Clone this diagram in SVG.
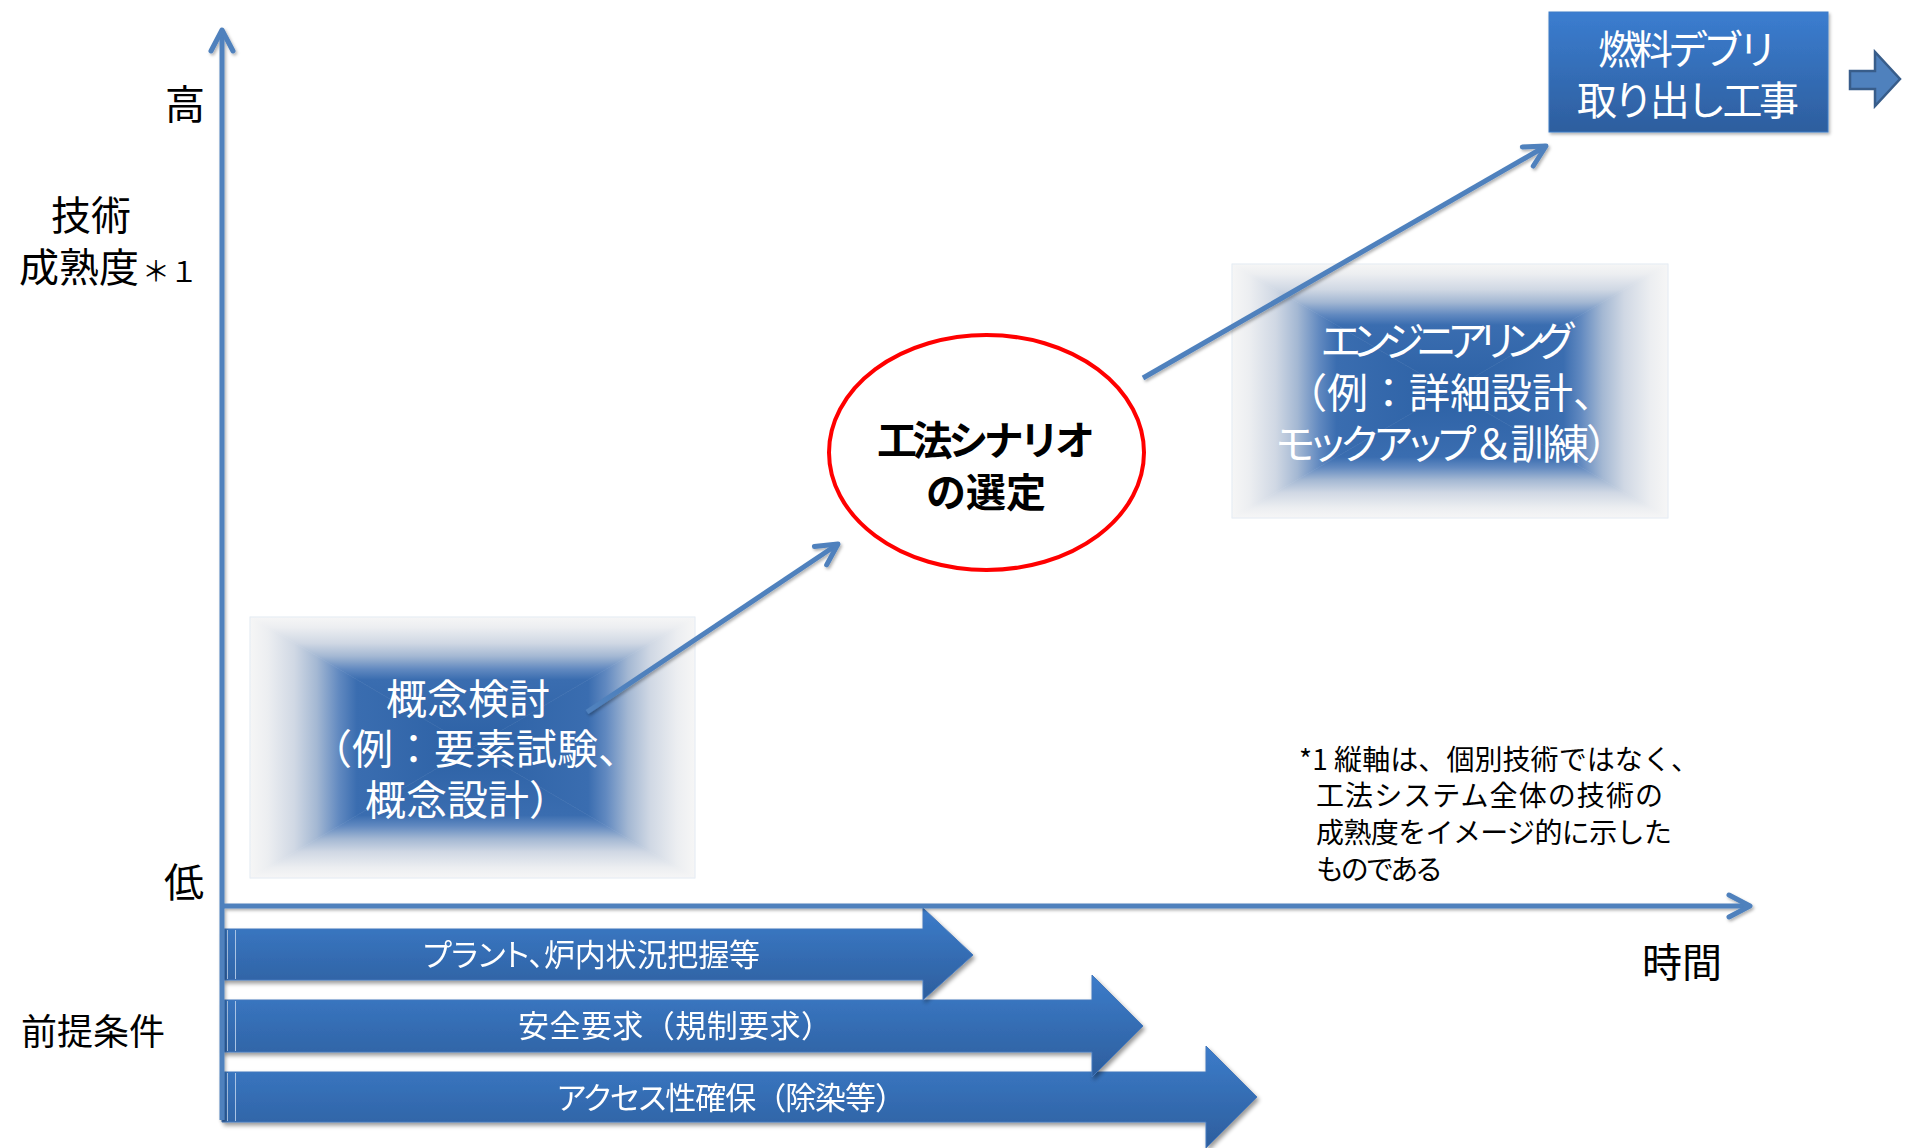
<svg xmlns="http://www.w3.org/2000/svg" xmlns:xlink="http://www.w3.org/1999/xlink" width="1905" height="1148" viewBox="0 0 1905 1148">
<style>
text{font-family:"Noto Sans CJK JP","Noto Sans",sans-serif}
.blk{fill:#000}
.lab{font-size:40px}
.wt{fill:#fff}
.box{font-size:41px}
.bar{font-size:31px}
.note{font-size:28px}
.p{font-feature-settings:"palt"}
.ax{fill:none;stroke:#4f81bd;stroke-width:5}
.con{fill:none;stroke:#4f81bd;stroke-width:5}
.barshape{fill:url(#barG);stroke:#4479bd;stroke-width:1}
</style>
<defs>
<filter id="sh" x="-10%" y="-10%" width="120%" height="120%">
<feDropShadow dx="1.5" dy="2" stdDeviation="1.5" flood-color="#000" flood-opacity="0.3"/>
</filter>
<filter id="shB" x="-5%" y="-20%" width="110%" height="150%">
<feDropShadow dx="2" dy="3" stdDeviation="2" flood-color="#000" flood-opacity="0.4"/>
</filter>
<marker id="ah" markerUnits="userSpaceOnUse" viewBox="-30 -20 36 40" markerWidth="36" markerHeight="40" refX="0" refY="0" orient="auto" overflow="visible">
<path d="M-21,-11 L0,0 L-21,11" fill="none" stroke="#4f81bd" stroke-width="5" stroke-linecap="round" stroke-linejoin="round"/>
</marker>
<linearGradient id="barG" x1="0" y1="0" x2="0" y2="1">
<stop offset="0" stop-color="#3c7cca"/>
<stop offset="1" stop-color="#2d5e9d"/>
</linearGradient>
<linearGradient id="topG" x1="0" y1="0" x2="0" y2="1">
<stop offset="0" stop-color="#3b7dd0"/>
<stop offset="1" stop-color="#2d5e9e"/>
</linearGradient>
<linearGradient id="rg">
<stop offset="0" stop-color="#f6f6f6"/>
<stop offset="0.08" stop-color="#eceef1"/>
<stop offset="0.2" stop-color="#d0d8e4"/>
<stop offset="0.3" stop-color="#a4b8d3"/>
<stop offset="0.4" stop-color="#6189c0"/>
<stop offset="0.48" stop-color="#3a6db0"/>
<stop offset="1" stop-color="#2c61a5"/>
</linearGradient>
<linearGradient id="c1t" xlink:href="#rg" gradientUnits="userSpaceOnUse" x1="0" y1="617" x2="0" y2="747.5"/>
<linearGradient id="c1b" xlink:href="#rg" gradientUnits="userSpaceOnUse" x1="0" y1="878" x2="0" y2="747.5"/>
<linearGradient id="c1l" xlink:href="#rg" gradientUnits="userSpaceOnUse" x1="250" y1="0" x2="472.5" y2="0"/>
<linearGradient id="c1r" xlink:href="#rg" gradientUnits="userSpaceOnUse" x1="695" y1="0" x2="472.5" y2="0"/>
<linearGradient id="c2t" xlink:href="#rg" gradientUnits="userSpaceOnUse" x1="0" y1="264" x2="0" y2="391"/>
<linearGradient id="c2b" xlink:href="#rg" gradientUnits="userSpaceOnUse" x1="0" y1="518" x2="0" y2="391"/>
<linearGradient id="c2l" xlink:href="#rg" gradientUnits="userSpaceOnUse" x1="1232" y1="0" x2="1450" y2="0"/>
<linearGradient id="c2r" xlink:href="#rg" gradientUnits="userSpaceOnUse" x1="1668" y1="0" x2="1450" y2="0"/>
</defs>
<rect width="1905" height="1148" fill="#fff"/>

<!-- axis labels -->
<g id="labels" class="blk">
<text class="lab" x="205" y="119" text-anchor="end">高</text>
<text class="lab" x="91" y="230" text-anchor="middle">技術</text>
<text x="19" y="282"><tspan class="lab">成熟度</tspan><tspan font-size="28" dx="3">＊１</tspan></text>
<text class="lab" x="204" y="897" text-anchor="end">低</text>
<text class="lab" x="1642" y="977">時間</text>
<text x="21" y="1045" font-size="36">前提条件</text>
</g>

<!-- premise bars -->
<g id="bar3" filter="url(#shB)">
<polygon class="barshape" points="222,1072 1206,1072 1206,1046 1257,1097 1206,1148 1206,1122 222,1122"/>
<line x1="227.5" y1="1073" x2="227.5" y2="1121" stroke="#a9c3e4" stroke-width="1"/>
<line x1="235.5" y1="1073" x2="235.5" y2="1121" stroke="#a9c3e4" stroke-width="1"/>
<text class="bar wt" x="557" y="1109" textLength="349"><tspan class="p">アクセス</tspan>性確保（除染等）</text>
</g>
<g id="bar2" filter="url(#shB)">
<polygon class="barshape" points="222,1000 1092,1000 1092,975 1143,1026 1092,1077 1092,1052 222,1052"/>
<line x1="227.5" y1="1001" x2="227.5" y2="1051" stroke="#a9c3e4" stroke-width="1"/>
<line x1="235.5" y1="1001" x2="235.5" y2="1051" stroke="#a9c3e4" stroke-width="1"/>
<text class="bar wt" x="518" y="1037" textLength="314">安全要求（規制要求）</text>
</g>
<g id="bar1" filter="url(#shB)">
<polygon class="barshape" points="222,929 923,929 923,908 973,955 923,1000 923,980 222,980"/>
<line x1="227.5" y1="930" x2="227.5" y2="979" stroke="#a9c3e4" stroke-width="1"/>
<line x1="235.5" y1="930" x2="235.5" y2="979" stroke="#a9c3e4" stroke-width="1"/>
<text class="bar wt" x="423" y="966" textLength="337"><tspan class="p">プラント、</tspan>炉内状況把握等</text>
</g>

<!-- axes -->
<g id="axes" filter="url(#sh)">
<path class="ax" d="M222,1120 L222,30" marker-end="url(#ah)"/>
<path class="ax" d="M220,906 L1750,906" marker-end="url(#ah)"/>
</g>

<!-- concept box -->
<g id="node-concept">
<g stroke-width="0.6">
<polygon points="250,617 695,617 472.5,747.5" fill="url(#c1t)" stroke="url(#c1t)"/>
<polygon points="250,878 695,878 472.5,747.5" fill="url(#c1b)" stroke="url(#c1b)"/>
<polygon points="250,617 250,878 472.5,747.5" fill="url(#c1l)" stroke="url(#c1l)"/>
<polygon points="695,617 695,878 472.5,747.5" fill="url(#c1r)" stroke="url(#c1r)"/>
</g>
<rect x="250" y="617" width="445" height="261" fill="none" stroke="#e4ebf4" stroke-width="1"/>
<text class="box wt" x="386" y="714">概念検討</text>
<text class="box wt" x="311" y="764">（例：要素試験、</text>
<text class="box wt" x="365" y="815">概念設計）</text>
</g>

<!-- engineering box -->
<g id="node-engineering">
<g stroke-width="0.6">
<polygon points="1232,264 1668,264 1450,391" fill="url(#c2t)" stroke="url(#c2t)"/>
<polygon points="1232,518 1668,518 1450,391" fill="url(#c2b)" stroke="url(#c2b)"/>
<polygon points="1232,264 1232,518 1450,391" fill="url(#c2l)" stroke="url(#c2l)"/>
<polygon points="1668,264 1668,518 1450,391" fill="url(#c2r)" stroke="url(#c2r)"/>
</g>
<rect x="1232" y="264" width="436" height="254" fill="none" stroke="#e4ebf4" stroke-width="1"/>
<text class="box wt p" x="1321" y="356" textLength="253">エンジニアリング</text>
<text class="box wt" x="1286" y="408">（例：詳細設計、</text>
<text class="box wt" x="1276" y="459" textLength="351"><tspan class="p">モックアップ</tspan>＆訓練）</text>
</g>

<!-- scenario ellipse -->
<g id="node-scenario">
<ellipse cx="986.5" cy="452.5" rx="157.5" ry="117.5" fill="#fff" stroke="#ff0000" stroke-width="4"/>
<text x="986" y="455" font-size="40" font-weight="700" text-anchor="middle" textLength="218" class="blk">工法シナリオ</text>
<text x="986" y="507" font-size="40" font-weight="700" text-anchor="middle" class="blk">の選定</text>
</g>

<!-- top right box -->
<g id="node-removal">
<rect x="1549" y="12" width="279" height="120" fill="url(#topG)" stroke="#3f7cc6" stroke-width="1" filter="url(#sh)"/>
<text x="1688" y="64" font-size="40" text-anchor="middle" textLength="180" class="wt">燃料デブリ</text>
<text x="1688" y="115" font-size="40" text-anchor="middle" textLength="222" class="wt">取り出し工事</text>
</g>

<g id="node-next">
<polygon points="1850,71 1875,71 1875,52 1900,79 1875,106 1875,89 1850,89" fill="#4f81bd" stroke="#385d8a" stroke-width="2.5" stroke-linejoin="miter"/>
</g>

<!-- connectors -->
<g id="connectors" filter="url(#sh)">
<path class="con" d="M587,712 L838,544" marker-end="url(#ah)"/>
<path class="con" d="M1143,378 L1546,146" marker-end="url(#ah)"/>
</g>

<!-- footnote -->
<g id="footnote" class="blk note">
<text x="1299" y="770" textLength="400">*1 縦軸は、個別技術ではなく、</text>
<text x="1316" y="806" textLength="347">工法システム全体の技術の</text>
<text x="1316" y="843" textLength="356">成熟度をイメージ的に示した</text>
<text x="1316" y="880" textLength="127">ものである</text>
</g>
</svg>
